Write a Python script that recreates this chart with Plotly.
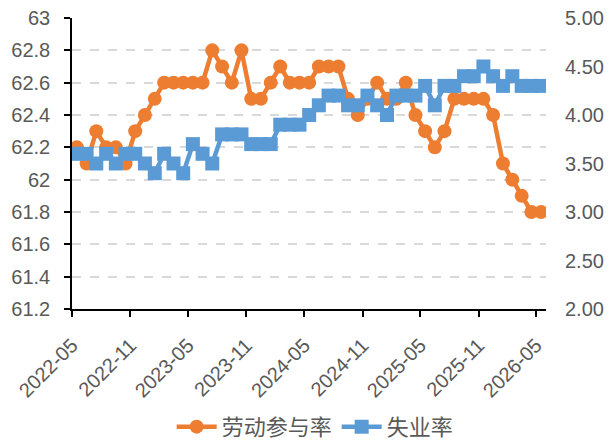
import pandas as pd
import plotly.graph_objects as go

months = pd.date_range("2022-05-01", periods=49, freq="MS")

participation = [62.2, 62.1, 62.3, 62.2, 62.2, 62.1, 62.3, 62.4, 62.5, 62.6,
                 62.6, 62.6, 62.6, 62.6, 62.8, 62.7, 62.6, 62.8, 62.5, 62.5,
                 62.6, 62.7, 62.6, 62.6, 62.6, 62.7, 62.7, 62.7, 62.5, 62.4,
                 62.5, 62.6, 62.5, 62.5, 62.6, 62.4, 62.3, 62.2, 62.3, 62.5,
                 62.5, 62.5, 62.5, 62.4, 62.1, 62.0, 61.9, 61.8, 61.8]

unemployment = [3.6, 3.6, 3.5, 3.6, 3.5, 3.6, 3.6, 3.5, 3.4, 3.6,
                3.5, 3.4, 3.7, 3.6, 3.5, 3.8, 3.8, 3.8, 3.7, 3.7,
                3.7, 3.9, 3.9, 3.9, 4.0, 4.1, 4.2, 4.2, 4.1, 4.1,
                4.2, 4.1, 4.0, 4.2, 4.2, 4.2, 4.3, 4.1, 4.3, 4.3,
                4.4, 4.4, 4.5, 4.4, 4.3, 4.4, 4.3, 4.3, 4.3]

name_lfpr = "劳动参与率"
name_ur = "失业率"

ORANGE = "#ED7D31"
BLUE = "#5B9BD5"
TXT = "#595959"
FONT = "Liberation Sans, Arial, sans-serif"

fig = go.Figure()
fig.add_trace(go.Scatter(
    x=months, y=participation, name=name_lfpr, mode="lines+markers",
    xperiod="M1", xperiodalignment="middle",
    line=dict(color=ORANGE, width=4.5),
    marker=dict(symbol="circle", size=14, color=ORANGE),
    yaxis="y",
))
fig.add_trace(go.Scatter(
    x=months, y=unemployment, name=name_ur, mode="lines+markers",
    xperiod="M1", xperiodalignment="middle",
    line=dict(color=BLUE, width=4.5),
    marker=dict(symbol="square", size=14, color=BLUE),
    yaxis="y2",
))

fig.update_layout(
    width=612, height=444,
    margin=dict(l=72, r=66, t=18, b=135, autoexpand=False),
    paper_bgcolor="white", plot_bgcolor="white",
    font=dict(family=FONT, size=20, color=TXT),
    showlegend=True,
    legend=dict(
        orientation="h", x=0.513, xanchor="center", y=-0.405, yanchor="middle",
        font=dict(family="Noto Sans CJK SC, sans-serif", size=22, color=TXT),
        itemwidth=40, traceorder="normal",
    ),
    xaxis=dict(
        type="date", automargin=False,
        range=["2022-05-01", "2026-06-01"],
        tick0="2022-05-01", dtick="M6", tickformat="%Y-%m",
        tickangle=-45,
        showline=True, linecolor="black", linewidth=1.5,
        ticks="outside", ticklen=6, tickcolor="black", tickwidth=1.5,
        showgrid=False, zeroline=False,
        tickfont=dict(family=FONT, size=20, color=TXT),
        ticklabelstandoff=9,
    ),
    yaxis=dict(
        automargin=False,
        range=[61.2, 63], dtick=0.2, tick0=61.2,
        showline=True, linecolor="black", linewidth=1.5,
        ticks="outside", ticklen=6, tickcolor="black", tickwidth=1.5,
        showgrid=True, gridcolor="#D9D9D9", gridwidth=1.5, griddash="dash",
        zeroline=False,
        tickfont=dict(family=FONT, size=20, color=TXT),
        ticklabelstandoff=10,
    ),
    yaxis2=dict(
        automargin=False,
        overlaying="y", side="right",
        range=[2, 5], dtick=0.5, tick0=2, tickformat=".2f",
        showline=False, ticks="", showgrid=False, zeroline=False,
        tickfont=dict(family=FONT, size=20, color=TXT),
        ticklabelstandoff=18,
    ),
)

fig.write_html(
    "out.html",
    config={"displayModeBar": False},
    post_script="document.body.style.margin='0';document.body.style.padding='0';",
)
